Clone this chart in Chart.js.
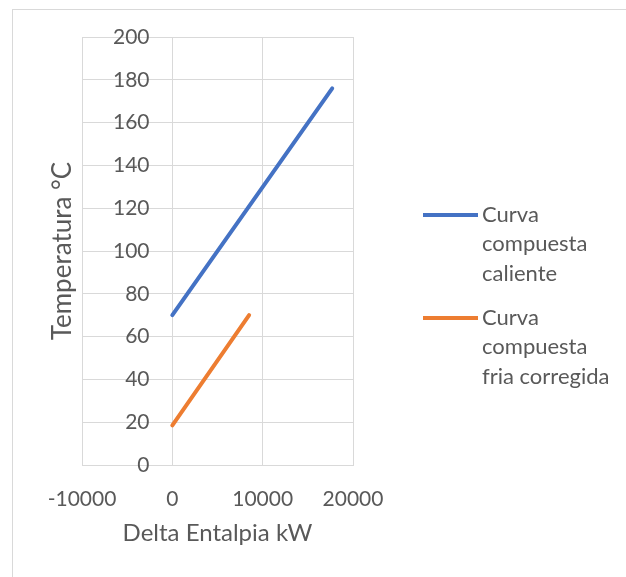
<!DOCTYPE html>
<html>
<head>
<meta charset="utf-8">
<script src="https://cdn.jsdelivr.net/npm/chart.js@4.4.1/dist/chart.umd.min.js"></script>
<style>
  html, body { margin: 0; padding: 0; background: #fff; overflow: hidden; width: 626px; height: 577px; }
  #frame { position: absolute; left: 12px; top: 9px; width: 700px; height: 700px; border: 1px solid #d9d9d9; box-sizing: border-box; }
  #c { position: absolute; left: 0; top: 0; }
</style>
</head>
<body>
<div id="frame"></div>
<canvas id="c" width="626" height="577"></canvas>
<script>
// Composite curves: enthalpy change (kW) against temperature (°C)
const hotLabel = ['Curva', 'compuesta', 'caliente'];
const coldLabel = ['Curva', 'compuesta', 'fria corregida'];
const hotEnthalpy = [0, 17700];
const hotTemp = [70, 176];
const coldEnthalpy = [0, 8500];
const coldTemp = [18.5, 70];
const xTickValues = [-10000, 0, 10000, 20000];
const yTickValues = [0, 20, 40, 60, 80, 100, 120, 140, 160, 180, 200];

const TEXT = '#595959';
const GRID = '#d9d9d9';
const FONT = 'Lato, "Open Sans", sans-serif';

const toPoints = (xs, ys) => xs.map((x, i) => ({ x, y: ys[i] }));

// Legend on the right: a short line swatch per series, label wrapped over several lines
const seriesLegend = {
  id: 'seriesLegend',
  afterDraw(chart, args, opts) {
    const { ctx } = chart;
    ctx.save();
    ctx.font = `${opts.size}px ${FONT}`;
    ctx.fillStyle = TEXT;
    ctx.textAlign = 'left';
    ctx.textBaseline = 'middle';
    chart.data.datasets.forEach((ds, i) => {
      const y0 = opts.top + i * opts.itemStep;
      ctx.strokeStyle = ds.borderColor;
      ctx.lineWidth = 4;
      ctx.lineCap = 'butt';
      ctx.beginPath();
      ctx.moveTo(opts.x, y0);
      ctx.lineTo(opts.x + opts.swatch, y0);
      ctx.stroke();
      ds.legendLines.forEach((line, j) => {
        ctx.fillText(line, opts.x + opts.swatch + opts.gap, y0 + j * opts.lineHeight);
      });
    });
    ctx.restore();
  }
};

new Chart(document.getElementById('c'), {
  type: 'scatter',
  plugins: [seriesLegend],
  data: {
    datasets: [
      {
        label: hotLabel.join(' '),
        legendLines: hotLabel,
        data: toPoints(hotEnthalpy, hotTemp),
        showLine: true,
        borderColor: '#4472C4',
        backgroundColor: '#4472C4',
        borderWidth: 4,
        pointRadius: 0,
        borderCapStyle: 'round'
      },
      {
        label: coldLabel.join(' '),
        legendLines: coldLabel,
        data: toPoints(coldEnthalpy, coldTemp),
        showLine: true,
        borderColor: '#ED7D31',
        backgroundColor: '#ED7D31',
        borderWidth: 4,
        pointRadius: 0,
        borderCapStyle: 'round'
      }
    ]
  },
  options: {
    responsive: false,
    animation: false,
    layout: { padding: { left: 12, top: 37, right: 273, bottom: 14 } },
    plugins: {
      tooltip: { enabled: false },
      legend: { display: false },
      seriesLegend: { x: 423, top: 215, itemStep: 103, swatch: 55, gap: 4, lineHeight: 29.3, size: 22 }
    },
    scales: {
      x: {
        type: 'linear',
        position: 'bottom',
        min: -10000,
        max: 20000,
        afterBuildTicks: (s) => { s.ticks = xTickValues.map(v => ({ value: v })); },
        afterFit: (s) => { s.height = 98; },
        ticks: {
          color: TEXT,
          font: { family: FONT, size: 21 },
          padding: 22,
          maxRotation: 0,
          callback: (v) => String(v)
        },
        grid: { color: GRID, lineWidth: 1, drawTicks: false },
        border: { color: GRID, width: 1 },
        title: {
          display: true,
          text: 'Delta Entalpia kW',
          color: TEXT,
          font: { family: FONT, size: 24 },
          padding: { top: 4, bottom: 15 }
        }
      },
      y: {
        type: 'linear',
        position: 'left',
        min: 0,
        max: 200,
        afterBuildTicks: (s) => { s.ticks = yTickValues.map(v => ({ value: v })); },
        afterFit: (s) => { s.width = 70; s.paddingTop = 0; s.paddingBottom = 0; },
        ticks: {
          color: TEXT,
          font: { family: FONT, size: 21 },
          mirror: true,
          crossAlign: 'far',
          padding: 31,
          callback: (v) => String(v)
        },
        grid: { color: GRID, lineWidth: 1, drawTicks: false },
        border: { color: GRID, width: 1 },
        title: {
          display: true,
          text: 'Temperatura °C',
          color: TEXT,
          font: { family: FONT, size: 26 },
          padding: { top: 35, bottom: 0 }
        }
      }
    }
  }
});
</script>
</body>
</html>
